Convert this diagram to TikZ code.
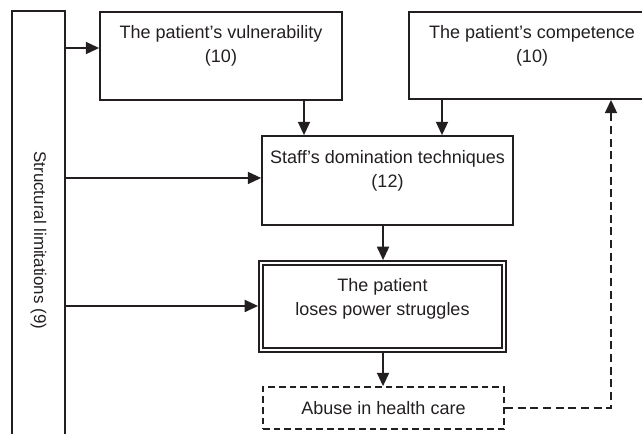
\documentclass[tikz,border=0pt]{standalone}
\usepackage{fontspec}
\setmainfont{Liberation Sans}
\usetikzlibrary{arrows.meta,calc}
\definecolor{ink}{RGB}{35,31,32}
\begin{document}
\begin{tikzpicture}[x=0.75pt,y=-0.75pt,
  box/.style={draw=ink, line width=1.3pt, rectangle, inner sep=0pt, align=center,
    font=\fontsize{13.5}{18}\selectfont, text=ink},
  arr/.style={draw=ink, line width=1.4pt, -{Triangle[length=10pt,width=9pt]}},
  darr/.style={arr, dash pattern=on 6pt off 3.5pt},
]
\useasboundingbox (0,0) rectangle (642,433);
\clip (0,0) rectangle (642,433);
% nodes
\node[box, rotate=-90, minimum width=330pt, minimum height=39.75pt,
      font=\fontsize{12.7}{15}\selectfont] (struct) at (38.5,231)
      {\hspace*{14pt}Structural limitations (9)};
\node[box, minimum width=181.5pt, minimum height=66pt] (vuln) at (221,56)
      {The patient’s vulnerability\\(10)\\\mbox{}};
\node[box, minimum width=184.5pt, minimum height=65.25pt] (comp) at (532,55.5)
      {The patient’s competence\\(10)\\\mbox{}};
\node[box, minimum width=188.25pt, minimum height=66.75pt] (staff) at (387.5,180.5)
      {Staff’s domination techniques\\(12)\hspace*{26pt}\\\mbox{}};
\node[box, double, double distance=2pt, outer sep=2.2pt,
      minimum width=182.25pt, minimum height=65.25pt] (lose) at (382.5,306.5)
      {The patient\\loses power struggles\\[-4pt]\mbox{}};
\node[box, dash pattern=on 5pt off 3pt, minimum width=180.75pt, minimum height=31.5pt]
      (abuse) at (383.5,408) {Abuse in health care};
% connectors
\coordinate (v1) at ([yshift=6pt]vuln.west);
\coordinate (w2) at ([yshift=1.9pt]staff.west);
\coordinate (w3) at ([yshift=0.4pt]lose.west);
\draw[arr] (struct.north |- v1) -- (v1);
\draw[arr] (struct.north |- w2) -- (w2);
\draw[arr] (struct.north |- w3) -- (w3);
\coordinate (s1) at ([xshift=62.25pt]vuln.south);
\draw[arr] (s1) -- (s1 |- staff.north);
\coordinate (s2) at ([xshift=-67.5pt]comp.south);
\draw[arr] (s2) -- (s2 |- staff.north);
\coordinate (l1) at ([xshift=0.4pt]lose.north);
\coordinate (l2) at ([xshift=0.4pt]lose.south);
\draw[arr] (l1 |- staff.south) -- (l1);
\draw[arr] (l2) -- (l2 |- abuse.north);
\draw[darr] (abuse.east) -| ([xshift=59.25pt]comp.south);
\end{tikzpicture}
\end{document}
